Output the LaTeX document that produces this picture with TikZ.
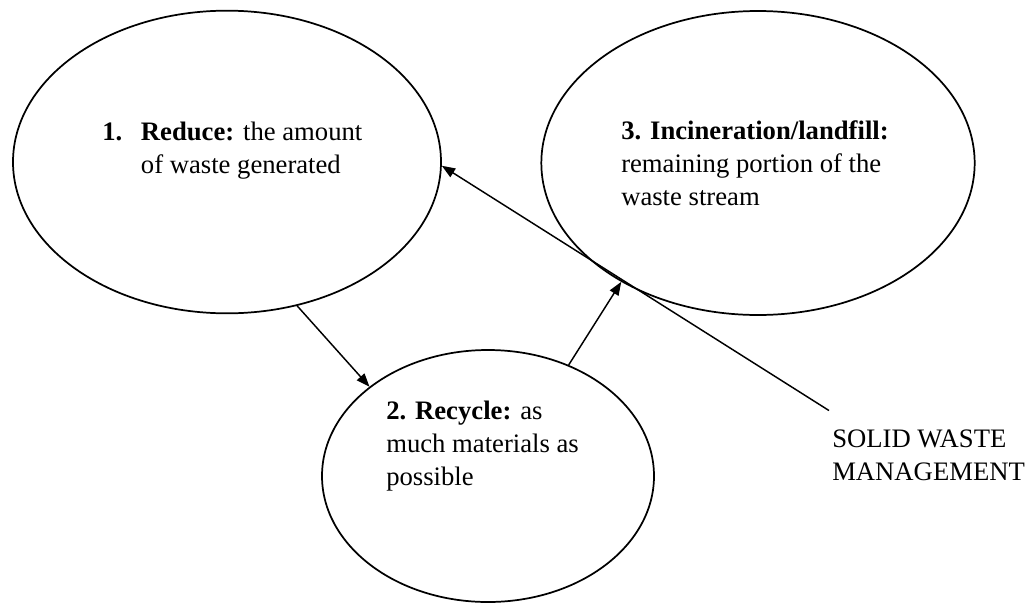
\documentclass[tikz,border=0pt]{standalone}
\usepackage{fontspec}
\setmainfont{Liberation Serif}
\usetikzlibrary{shapes.geometric,arrows.meta}

\begin{document}
\begin{tikzpicture}[x=0.75pt,y=0.75pt,yscale=-1,xscale=1,
  stage/.style={draw,ellipse,line width=1.3pt,inner sep=0pt},
  stagetext/.style={anchor=base west,inner sep=0pt,align=left,font=\fontsize{20}{24.4}\selectfont},
  flow/.style={line width=1.1pt,-{Triangle[length=10pt,width=7.5pt]}}]
\useasboundingbox (0,0) rectangle (1030,603);

%Shape: Ellipse [reduce]
\node [stage,minimum width=321pt,minimum height=227pt] (reduce) at (227,162) {};
%Shape: Ellipse [recycle]
\node [stage,minimum width=249pt,minimum height=189pt] (recycle) at (488,476) {};
%Shape: Ellipse [dispose]
\node [stage,minimum width=325pt,minimum height=228pt] (dispose) at (758,163) {};

% Text Node (anchored on the last line)
\node [stagetext] (reducetxt) at (102,173) {\makebox[29pt][l]{\textbf{1.}}\textbf{Reduce:} the amount\\\hspace*{29pt}of waste generated};
% Text Node
\node [stagetext] (recycletxt) at (386,485) {\textbf{2. Recycle:} as\\much materials as\\possible};
% Text Node
\node [stagetext] (disposetxt) at (621,205) {\textbf{3. Incineration/landfill:}\\remaining portion of the\\waste stream};
% Text Node
\node [stagetext] (swm) at (832,480) {SOLID WASTE\\MANAGEMENT};

%Straight Lines
\draw [flow] (reduce.-64) -- (recycle.143);
\draw [flow] (recycle.54) -- (dispose.-139);
\draw [flow] ([shift={(-3,-19)}]swm.north west) -- (reduce.-1);

\end{tikzpicture}
\end{document}
